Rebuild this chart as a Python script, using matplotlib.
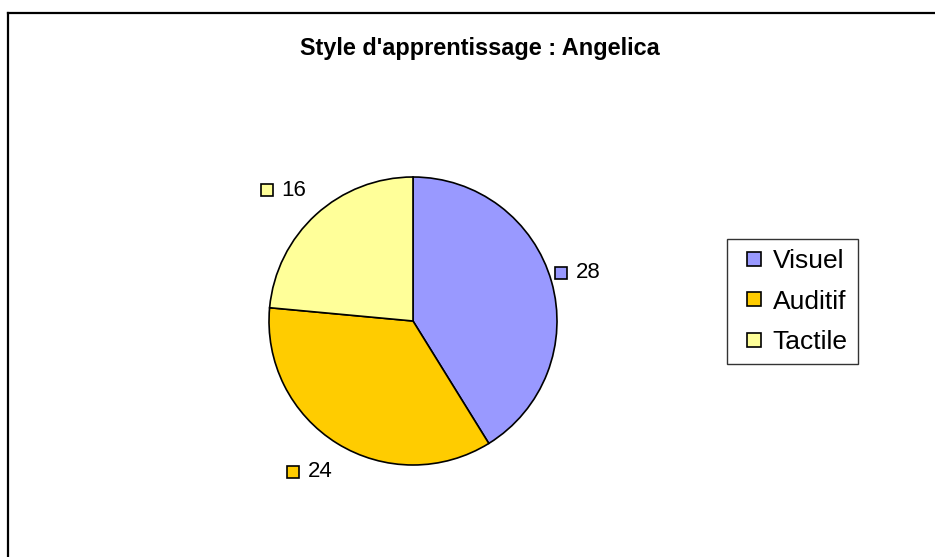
import matplotlib.pyplot as plt
from matplotlib.lines import Line2D
import numpy as np

plt.rcParams['font.family'] = ['Liberation Sans', 'DejaVu Sans']

title = "Style d'apprentissage : Angelica"
categories = ["Visuel", "Auditif", "Tactile"]
values = [28, 24, 16]
colors = ["#9999FF", "#FFCC00", "#FFFF99"]

W, H = 935, 557
fig = plt.figure(figsize=(W / 100, H / 100), dpi=100)

# outer chart frame (top and left edges visible)
fig.add_artist(Line2D([8 / W, 1], [1 - 13 / H, 1 - 13 / H], color="black", lw=1.6))
fig.add_artist(Line2D([8 / W, 8 / W], [0, 1 - 13 / H], color="black", lw=1.6))

fig.text(480 / W, 1 - 48 / H, title, ha="center", va="center",
         fontsize=16.9, fontweight="bold")

# pie axes: center (413, 321) px, radius 144 px
r = 144
cx, cy = 413, 321
ax = fig.add_axes([(cx - r) / W, (H - cy - r) / H, 2 * r / W, 2 * r / H])
wedges, _ = ax.pie(values, colors=colors, startangle=90, counterclock=False,
                   radius=1, wedgeprops=dict(edgecolor="black", linewidth=1.2))
ax.set_xlim(-1, 1)
ax.set_ylim(-1, 1)
ax.set_aspect("equal")
ax.axis("off")

# data labels with little colour keys
for w, v, c in zip(wedges, values, colors):
    ang = np.deg2rad((w.theta1 + w.theta2) / 2)
    lx, ly = 1.25 * np.cos(ang), 1.23 * np.sin(ang)
    ax.plot(lx - 0.172, ly, marker="s", ms=8, mfc=c, mec="black", mew=1.2,
            clip_on=False)
    ax.text(lx + 0.015, ly, str(v), ha="center", va="center", fontsize=16,
            clip_on=False)

handles = [Line2D([], [], ls="none", marker="s", ms=9.5, mfc=c, mec="black",
                  mew=1.2) for c in colors]
leg = fig.legend(handles, categories, loc="upper left",
                 bbox_to_anchor=(727 / W, 1 - 239 / H), frameon=True,
                 fancybox=False, edgecolor="black", fontsize=19,
                 handlelength=1.3, handletextpad=0.05, labelspacing=0.63,
                 borderpad=0.38, borderaxespad=0)
leg.get_frame().set_linewidth(1.0)

fig.savefig("out.png", dpi=100)
